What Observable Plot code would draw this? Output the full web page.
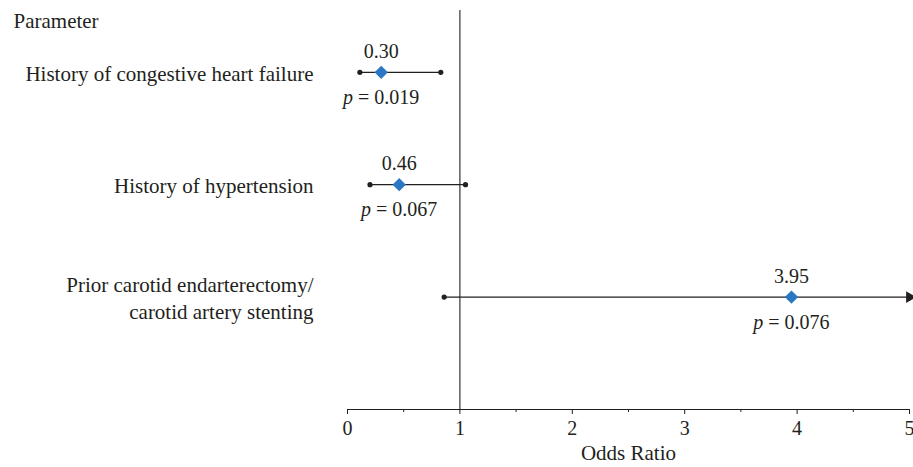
<!DOCTYPE html>
<html>
<head>
<meta charset="utf-8">
<script src="https://cdn.jsdelivr.net/npm/d3@7"></script>
<script src="https://cdn.jsdelivr.net/npm/@observablehq/plot@0.6"></script>
<style>
  html, body { margin: 0; padding: 0; background: #fff; }
  #chart svg { display: block; }
</style>
</head>
<body>
<div id="chart"></div>
<script>
const parameters = [
  "History of congestive heart failure",
  "History of hypertension",
  "Prior carotid endarterectomy/\ncarotid artery stenting"
];
const rowIndex = [1, 2, 3];
const oddsRatios = [0.30, 0.46, 3.95];
const ciLower = [0.11, 0.20, 0.86];
const ciUpper = [0.83, 1.05, 6.0]; // last one runs off the axis (arrow)
const pValues = ["0.019", "0.067", "0.076"];
const xTicks = [0, 1, 2, 3, 4, 5];
const xMinorTicks = [0.5, 1.5, 2.5, 3.5, 4.5];
const xMax = 5;

const data = parameters.map((p, i) => ({
  name: p, row: rowIndex[i], or: oddsRatios[i], lo: ciLower[i], hi: ciUpper[i], p: pValues[i]
}));

const font = "Liberation Serif";
const ink = "#231f20";
const blue = "#2b77c3";
const fs = 20;   // numbers
const fsL = 21;  // words

const plot = Plot.plot({
  width: 913,
  height: 467,
  marginLeft: 347,
  marginRight: 4,
  marginTop: 10,
  marginBottom: 58,
  style: { fontFamily: font, fontSize: fs + "px", color: ink, background: "#fff", overflow: "visible" },
  x: { domain: [0, xMax] },
  y: { domain: [0.45, 4], reverse: true, axis: null },
  marks: [
    // reference line at OR = 1
    Plot.ruleX([1], { y1: 0.45, y2: 4, stroke: ink, strokeWidth: 1.1 }),
    // axis baseline
    Plot.ruleY([4], { x1: 0, x2: xMax, stroke: ink, strokeWidth: 1.1 }),
    Plot.axisX({ ticks: xTicks, tickFormat: d3.format("d"), tickSize: 5, tickPadding: 6, fontSize: fs, stroke: ink, label: null }),
    Plot.axisX({ ticks: xMinorTicks, tickSize: 3, tickFormat: () => "", label: null, stroke: ink }),
    Plot.axisX({ ticks: [], fontSize: fsL, label: "Odds Ratio", labelAnchor: "center", labelOffset: 50, labelArrow: "none" }),
    // CI lines
    Plot.ruleY(data, { y: "row", x1: "lo", x2: d => Math.min(d.hi, xMax), stroke: ink, strokeWidth: 1.3 }),
    // end dots
    Plot.dot(data, { x: "lo", y: "row", r: 2.6, fill: ink }),
    Plot.dot(data.filter(d => d.hi <= xMax), { x: "hi", y: "row", r: 2.6, fill: ink }),
    // arrowhead for off-scale CI
    Plot.dot(data.filter(d => d.hi > xMax), { x: () => xMax, y: "row", dx: 0, symbol: "triangle2", rotate: 90, r: 5.6, fill: ink, clip: false }),
    // point estimates
    Plot.dot(data, { x: "or", y: "row", symbol: "diamond2", r: 6, fill: blue }),
    // OR labels
    Plot.text(data, { x: "or", y: "row", text: d => d.or.toFixed(2), dy: -21, fill: ink, fontSize: fs }),
    Plot.text(data, { x: "or", y: "row", text: d => "p = " + d.p, dy: 25, fill: ink, fontSize: fs }),
    // row labels
    Plot.text(data, { x: () => 0, y: "row", text: "name", dx: -34, textAnchor: "end", lineHeight: 1.25, fill: ink, fontSize: fsL }),
    // column header
    Plot.text(["Parameter"], { x: () => 0, y: () => 0.548, text: d => d, dx: -334, textAnchor: "start", fill: ink, fontSize: fsL })
  ]
});

plot.querySelectorAll("text").forEach(t => {
  const s = t.textContent;
  if (s.startsWith("p = ") && t.children.length === 0) {
    const rest = s.slice(1);
    t.textContent = "";
    const it = document.createElementNS("http://www.w3.org/2000/svg", "tspan");
    it.setAttribute("font-style", "italic");
    it.textContent = "p";
    t.appendChild(it);
    t.appendChild(document.createTextNode(rest));
  }
});

document.getElementById("chart").appendChild(plot);
</script>
</body>
</html>
